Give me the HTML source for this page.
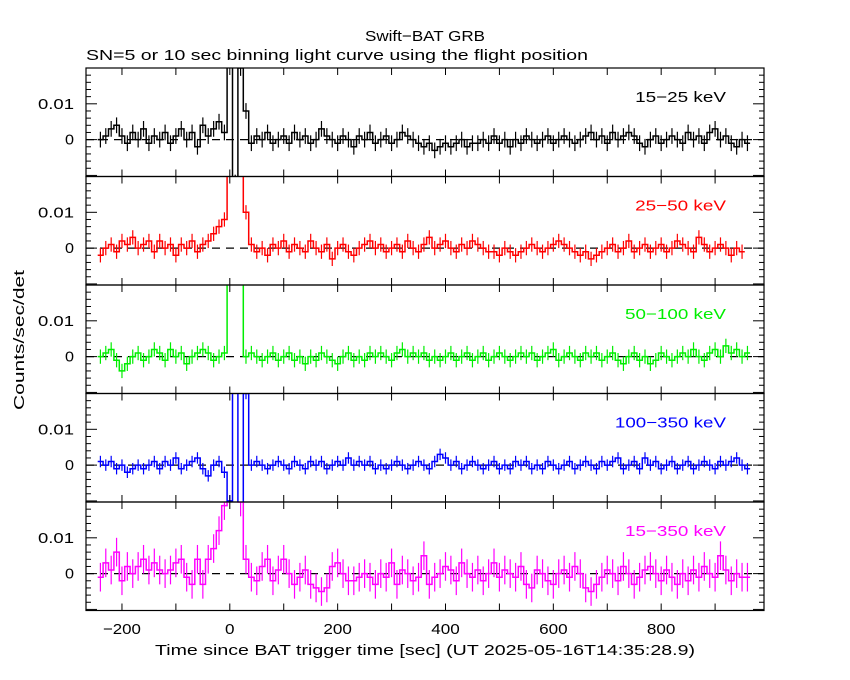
<!DOCTYPE html>
<html><head><meta charset="utf-8"><style>
html,body{margin:0;padding:0;background:#fff;}
svg{display:block;font-family:"Liberation Sans",sans-serif;}
</style></head><body>
<svg id="chart" width="850" height="680" viewBox="0 0 850 680">
<text x="425" y="41" text-anchor="middle" font-size="15" textLength="120" lengthAdjust="spacingAndGlyphs">Swift−BAT GRB</text>
<text x="86" y="60" font-size="15" textLength="502" lengthAdjust="spacingAndGlyphs">SN=5 or 10 sec binning light curve using the flight position</text>
<text x="425" y="655" text-anchor="middle" font-size="15" textLength="540" lengthAdjust="spacingAndGlyphs">Time since BAT trigger time [sec] (UT 2025-05-16T14:35:28.9)</text>
<text transform="translate(24,340) rotate(-90)" text-anchor="middle" font-size="15" textLength="140" lengthAdjust="spacingAndGlyphs">Counts/sec/det</text>
<g id="panels"></g>
</svg>
<script>
// values in units of 1e-3 counts/sec/det, bins of 10 s starting at t=-240
const binStart = -240;
const binWidth = 10;
const scale = 1e-3;
const bandLabels = ["15−25 keV","25−50 keV","50−100 keV","100−350 keV","15−350 keV"];
const bandColors = ["#000000","#ff0000","#00ee00","#0000ff","#ff00ff"];
const bandErrors = [2.2,2.0,2.0,1.6,4.0];
const s1 = [0,1,3,4,1,-1,2,0,3,-1,1,0,2,-1,1,3,0,2,-2,4,1,3,5,2,25,-12,20,8,-1,1,0,2,-1,0,1,-1,2,0,1,-1,0,3,1,0,-1,1,0,-2,1,0,2,-1,0,1,-1,0,2,1,0,-1,-2,-1,-3,-2,-1,-2,-1,0,-2,-1,-1,0,-1,1,-1,0,-2,0,-1,1,0,-1,0,1,-1,0,1,0,-1,0,1,2,0,1,-1,2,0,1,2,1,-1,-2,0,1,-1,0,1,0,-1,2,0,1,-1,2,3,0,1,-1,-2,0,-1];
const s2 = [-2,0,1,-1,2,1,3,0,1,2,-1,2,0,1,-2,1,0,2,-1,1,2,4,6,8,25,25,25,10,1,-1,0,-2,1,0,2,-1,1,0,-1,2,0,-1,1,-3,0,1,-1,-2,0,1,2,0,1,-1,0,1,-1,2,0,-1,1,3,0,1,2,0,-1,1,0,2,1,0,-1,-1,-2,0,-1,-2,-1,0,1,0,-1,0,1,2,1,0,-1,-2,-1,-3,-2,-1,0,1,-1,0,2,-1,0,1,-1,0,1,-1,0,2,1,0,-1,3,1,-1,0,1,0,-2,0,-1];
const s3 = [0,1,2,-1,-4,-2,0,1,-1,0,2,1,-1,2,0,1,-2,0,1,2,1,-1,0,1,25,25,25,0,1,0,-1,0,1,-1,0,1,-1,0,-2,0,-1,1,0,-1,-2,0,1,-1,0,-1,1,0,1,0,-1,1,2,0,1,0,1,-1,0,-1,0,1,-1,0,1,-1,0,1,-1,0,1,0,-1,0,1,0,1,-1,0,1,2,-1,0,1,0,-1,1,0,1,-1,0,1,-1,-2,0,1,-1,0,-2,-1,1,0,-1,0,1,0,2,0,-1,1,2,0,3,1,2,0,1];
const s4 = [1,0,1,-1,0,-2,-1,0,-1,0,1,-1,1,0,2,-1,0,1,2,-1,-3,0,1,-2,-10,25,-15,20,0,1,0,-1,0,1,0,-1,1,0,-1,1,0,1,-1,0,1,0,2,0,1,0,1,-1,0,-1,0,1,0,-1,0,1,0,-1,1,3,2,0,1,-1,0,1,0,-1,0,1,-1,0,-1,1,0,1,-1,0,-1,1,0,-1,0,1,-1,0,1,0,-1,1,0,1,2,-1,0,1,-1,2,0,1,-1,0,1,-1,0,1,-1,0,1,0,-1,1,0,1,2,0,-1];
const s5 = [-1,3,1,6,-2,2,0,2,4,1,3,1,0,1,3,4,-1,-3,4,-3,4,7,12,19,25,25,20,4,-1,-2,2,4,-2,1,4,0,-3,-1,1,-3,-4,-5,-4,2,3,0,-2,-2,-1,0,-1,-3,0,-1,3,-3,1,0,-2,-1,5,-3,-1,0,2,1,-2,3,0,-1,1,-2,0,3,-1,1,0,-1,2,-3,-4,1,0,-2,-3,0,1,-1,2,0,-4,-5,-3,-1,1,0,-2,2,0,-3,-1,1,2,0,-2,1,-1,-3,0,-2,1,-1,2,0,-1,5,1,-2,0,-1,-1];
const series = [s1,s2,s3,s4,s5];
const xTicks = [-200,0,200,400,600,800];
const xMinorTicks = [-200,-100,0,100,200,300,400,500,600,700,800,900];
const yTickLabels = [0,0.01];

const NS="http://www.w3.org/2000/svg";
const plotL=86, plotR=764, tMin=-266.7, tMax=990.7;
const panelTop=68, panelH=108.5, yMax=0.02, yMin=-0.0103;
function xs(t){return plotL+(t-tMin)/(tMax-tMin)*(plotR-plotL);}
function ys(v,p){const top=panelTop+p*panelH;return top+(yMax-v)/(yMax-yMin)*panelH;}
function el(tag,attrs,parent){const e=document.createElementNS(NS,tag);for(const k in attrs)e.setAttribute(k,attrs[k]);parent.appendChild(e);return e;}
const root=document.getElementById('panels');
const defs=el('defs',{},root);
for(let p=0;p<5;p++){
  const top=panelTop+p*panelH, bot=top+panelH;
  const cp=el('clipPath',{id:'c'+p},defs);
  el('rect',{x:plotL,y:top,width:plotR-plotL,height:panelH},cp);
  const g=el('g',{},root);
  
  
  const data=series[p], col=bandColors[p], err=bandErrors[p]*scale;
  const dg=el('g',{'clip-path':'url(#c'+p+')'},g);
  const z=el('line',{x1:plotL,x2:plotR,y1:ys(0,p),y2:ys(0,p),stroke:'#000','stroke-dasharray':'8,6','stroke-width':1.2},dg);
  
  
  let d='';
  for(let i=0;i<data.length;i++){
    const t=binStart+i*binWidth, v=data[i]*scale;
    const x0=xs(t-binWidth/2), x1=xs(t+binWidth/2), y=ys(v,p);
    d+=(i===0?'M':'L')+x0.toFixed(1)+','+y.toFixed(1)+'L'+x1.toFixed(1)+','+y.toFixed(1);
    const eb=el('line',{x1:xs(t),x2:xs(t),y1:ys(v+err,p),y2:ys(v-err,p),stroke:col,'stroke-width':1.2},dg);
    
    
  }
  const path=el('path',{d:d,fill:'none',stroke:col,'stroke-width':1.5},dg);
  
  
  const fr=el('rect',{x:plotL,y:top,width:plotR-plotL,height:panelH,fill:'none',stroke:'#000','stroke-width':1.2},g);
  
  
  xMinorTicks.forEach(t=>{
    el('line',{x1:xs(t),x2:xs(t),y1:top,y2:top+7,stroke:'#000'},g);
    el('line',{x1:xs(t),x2:xs(t),y1:bot,y2:bot-7,stroke:'#000'},g);
  });
  for(let k=-5;k<=10;k++){
    const v=k*0.002; if(v<yMin||v>yMax)continue;
    const major=(k%5===0), len=major?11:5, y=ys(v,p);
    el('line',{x1:plotL,x2:plotL+len,y1:y,y2:y,stroke:'#000'},g);
    el('line',{x1:plotR,x2:plotR-len,y1:y,y2:y,stroke:'#000'},g);
  }
  yTickLabels.forEach(v=>{
    const s=v===0?'0':String(v);
    const tx=el('text',{x:74,y:ys(v,p)+5,'text-anchor':'end','font-size':15,textLength:s.length*9,lengthAdjust:'spacingAndGlyphs'},g);
    tx.textContent=s;
    
    
  });
  const lb=el('text',{x:726,y:top+34,'text-anchor':'end','font-size':15,fill:col,textLength:bandLabels[p].length*10.1,lengthAdjust:'spacingAndGlyphs'},g);
  lb.textContent=bandLabels[p];
  
  
}
xTicks.forEach(t=>{
  const s=t<0?'−'+(-t):String(t);
  const tx=el('text',{x:xs(t),y:634,'text-anchor':'middle','font-size':15,textLength:s.length*9.5,lengthAdjust:'spacingAndGlyphs'},root);
  tx.textContent=s;
  
  
});
</script>
</body></html>
